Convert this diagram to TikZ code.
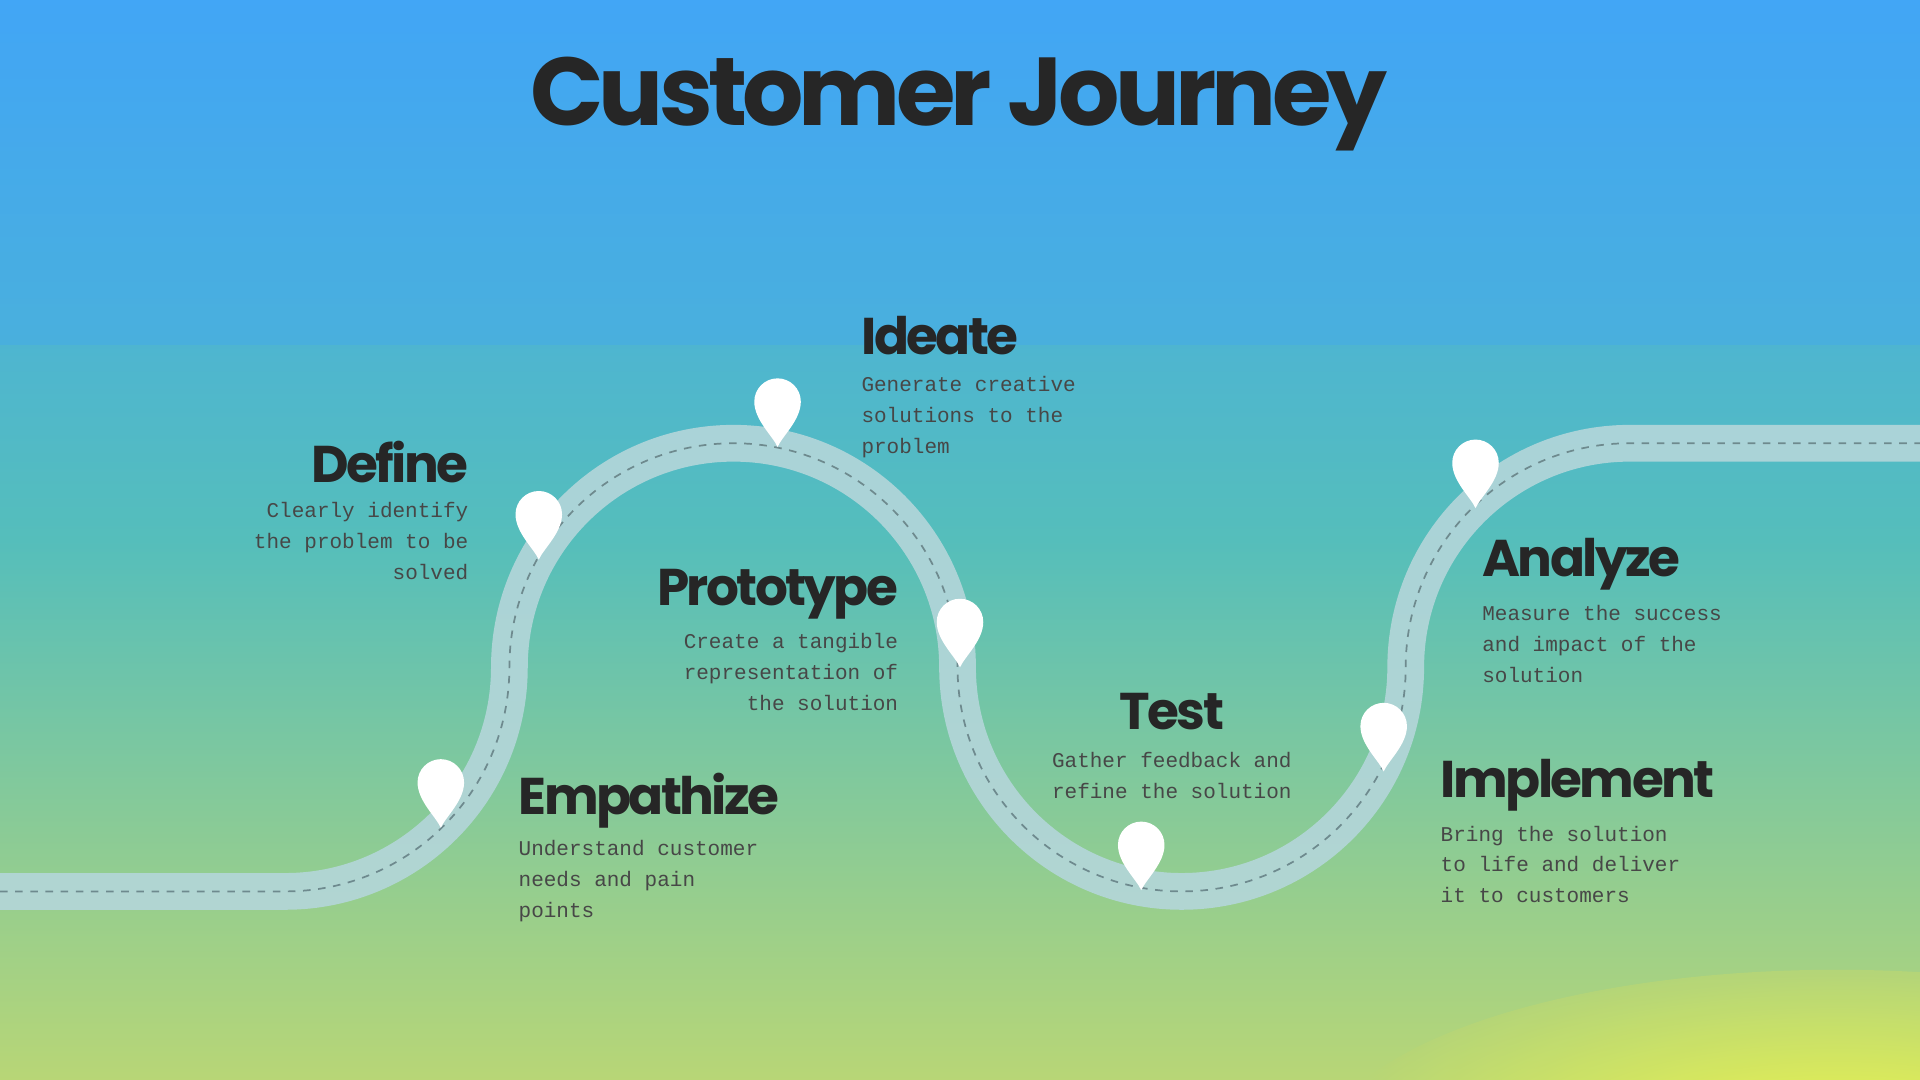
\documentclass[tikz,border=0pt]{standalone}
\usepackage{fontspec}
\newfontfamily\headfont[LetterSpace=-5]{Poppins Bold}
\newfontfamily\bodyfont{Liberation Mono}
\definecolor{skyA}{HTML}{42A6F6}
\definecolor{skyB}{HTML}{55BEBB}
\definecolor{skyC}{HTML}{B8D676}
\definecolor{roadc}{HTML}{B4D6DA}
\definecolor{ink}{HTML}{262626}
\definecolor{dashc}{HTML}{6E8A8E}
\tikzset{
 head/.style={font=\headfont\fontsize{15}{18}\selectfont, text=ink, inner sep=0pt},
 body/.style={font=\bodyfont\fontsize{6.1}{8.9}\selectfont, text=ink!85, inner sep=0pt},
 pin/.pic={\fill[white] (0,0) .. controls (-4,9) and (-19,22) .. (-19,37) arc[start angle=180,end angle=0,radius=19] .. controls (19,22) and (4,9) .. (0,0) -- cycle;}
}
\begin{document}
\begin{tikzpicture}[x=0.0125cm,y=0.0125cm]
\useasboundingbox (0,0) rectangle (1568,882);
\shade[top color=skyA, bottom color=skyC, middle color=skyB] (0,0) rectangle (1568,882);
\fill[opacity=0.35,skyA] (0,600) rectangle (1568,882);
\begin{scope}
\clip (0,0) rectangle (1568,882);
\shade[inner color=yellow!75, outer color=skyC, opacity=0.8] (1500,-60) ellipse (420 and 150);
\end{scope}
\path (0,154) coordinate (s);
\draw[roadc, line width=30*0.0125cm, opacity=0.9]
 (s) -- (233,154) arc[start angle=-90,end angle=0,radius=183]
 arc[start angle=180,end angle=0,radius=183]
 arc[start angle=180,end angle=360,radius=183]
 arc[start angle=180,end angle=90,radius=183] -- (1568,520);
\draw[dashc, line width=0.5pt, dash pattern=on 2.2pt off 2.2pt]
 (s) -- (233,154) arc[start angle=-90,end angle=0,radius=183]
 arc[start angle=180,end angle=0,radius=183]
 arc[start angle=180,end angle=360,radius=183]
 arc[start angle=180,end angle=90,radius=183] -- (1568,520);
\pic at (360,206) {pin};
\pic at (440,425) {pin};
\pic at (635,517) {pin};
\pic at (784,337) {pin};
\pic at (932,155) {pin};
\pic at (1130,252) {pin};
\pic at (1205,467) {pin};
\node[font=\headfont\fontsize{28}{32}\selectfont, text=ink, inner sep=0pt] (title) at (783,797) {Customer Journey};
\node[head, anchor=east] (defh) at (383,505) {Define};
\node[body, anchor=north east, align=right] (deft) at (383,472) {Clearly identify\\the problem to be\\solved};
\node[head, anchor=west] (emph) at (423,228) {Empathize};
\node[body, anchor=north west, align=left] (empt) at (423,196) {Understand customer\\needs and pain\\points};
\node[head, anchor=west] (ideh) at (703,608) {Ideate};
\node[body, anchor=north west, align=left] (idet) at (703,575) {Generate creative\\solutions to the\\problem};
\node[head, anchor=east] (proh) at (734,397) {Prototype};
\node[body, anchor=north east, align=right] (prot) at (734,365) {Create a tangible\\representation of\\the solution};
\node[head] (tesh) at (957,301) {Test};
\node[body, anchor=north, align=center] (test) at (957,268) {Gather feedback and\\refine the solution};
\node[head, anchor=west] (imph) at (1176,241) {Implement};
\node[body, anchor=north west, align=left] (impt) at (1176,208) {Bring the solution\\to life and deliver\\it to customers};
\node[head, anchor=west] (anah) at (1210,421) {Analyze};
\node[body, anchor=north west, align=left] (anat) at (1210,388) {Measure the success\\and impact of the\\solution};
\end{tikzpicture}
\end{document}
